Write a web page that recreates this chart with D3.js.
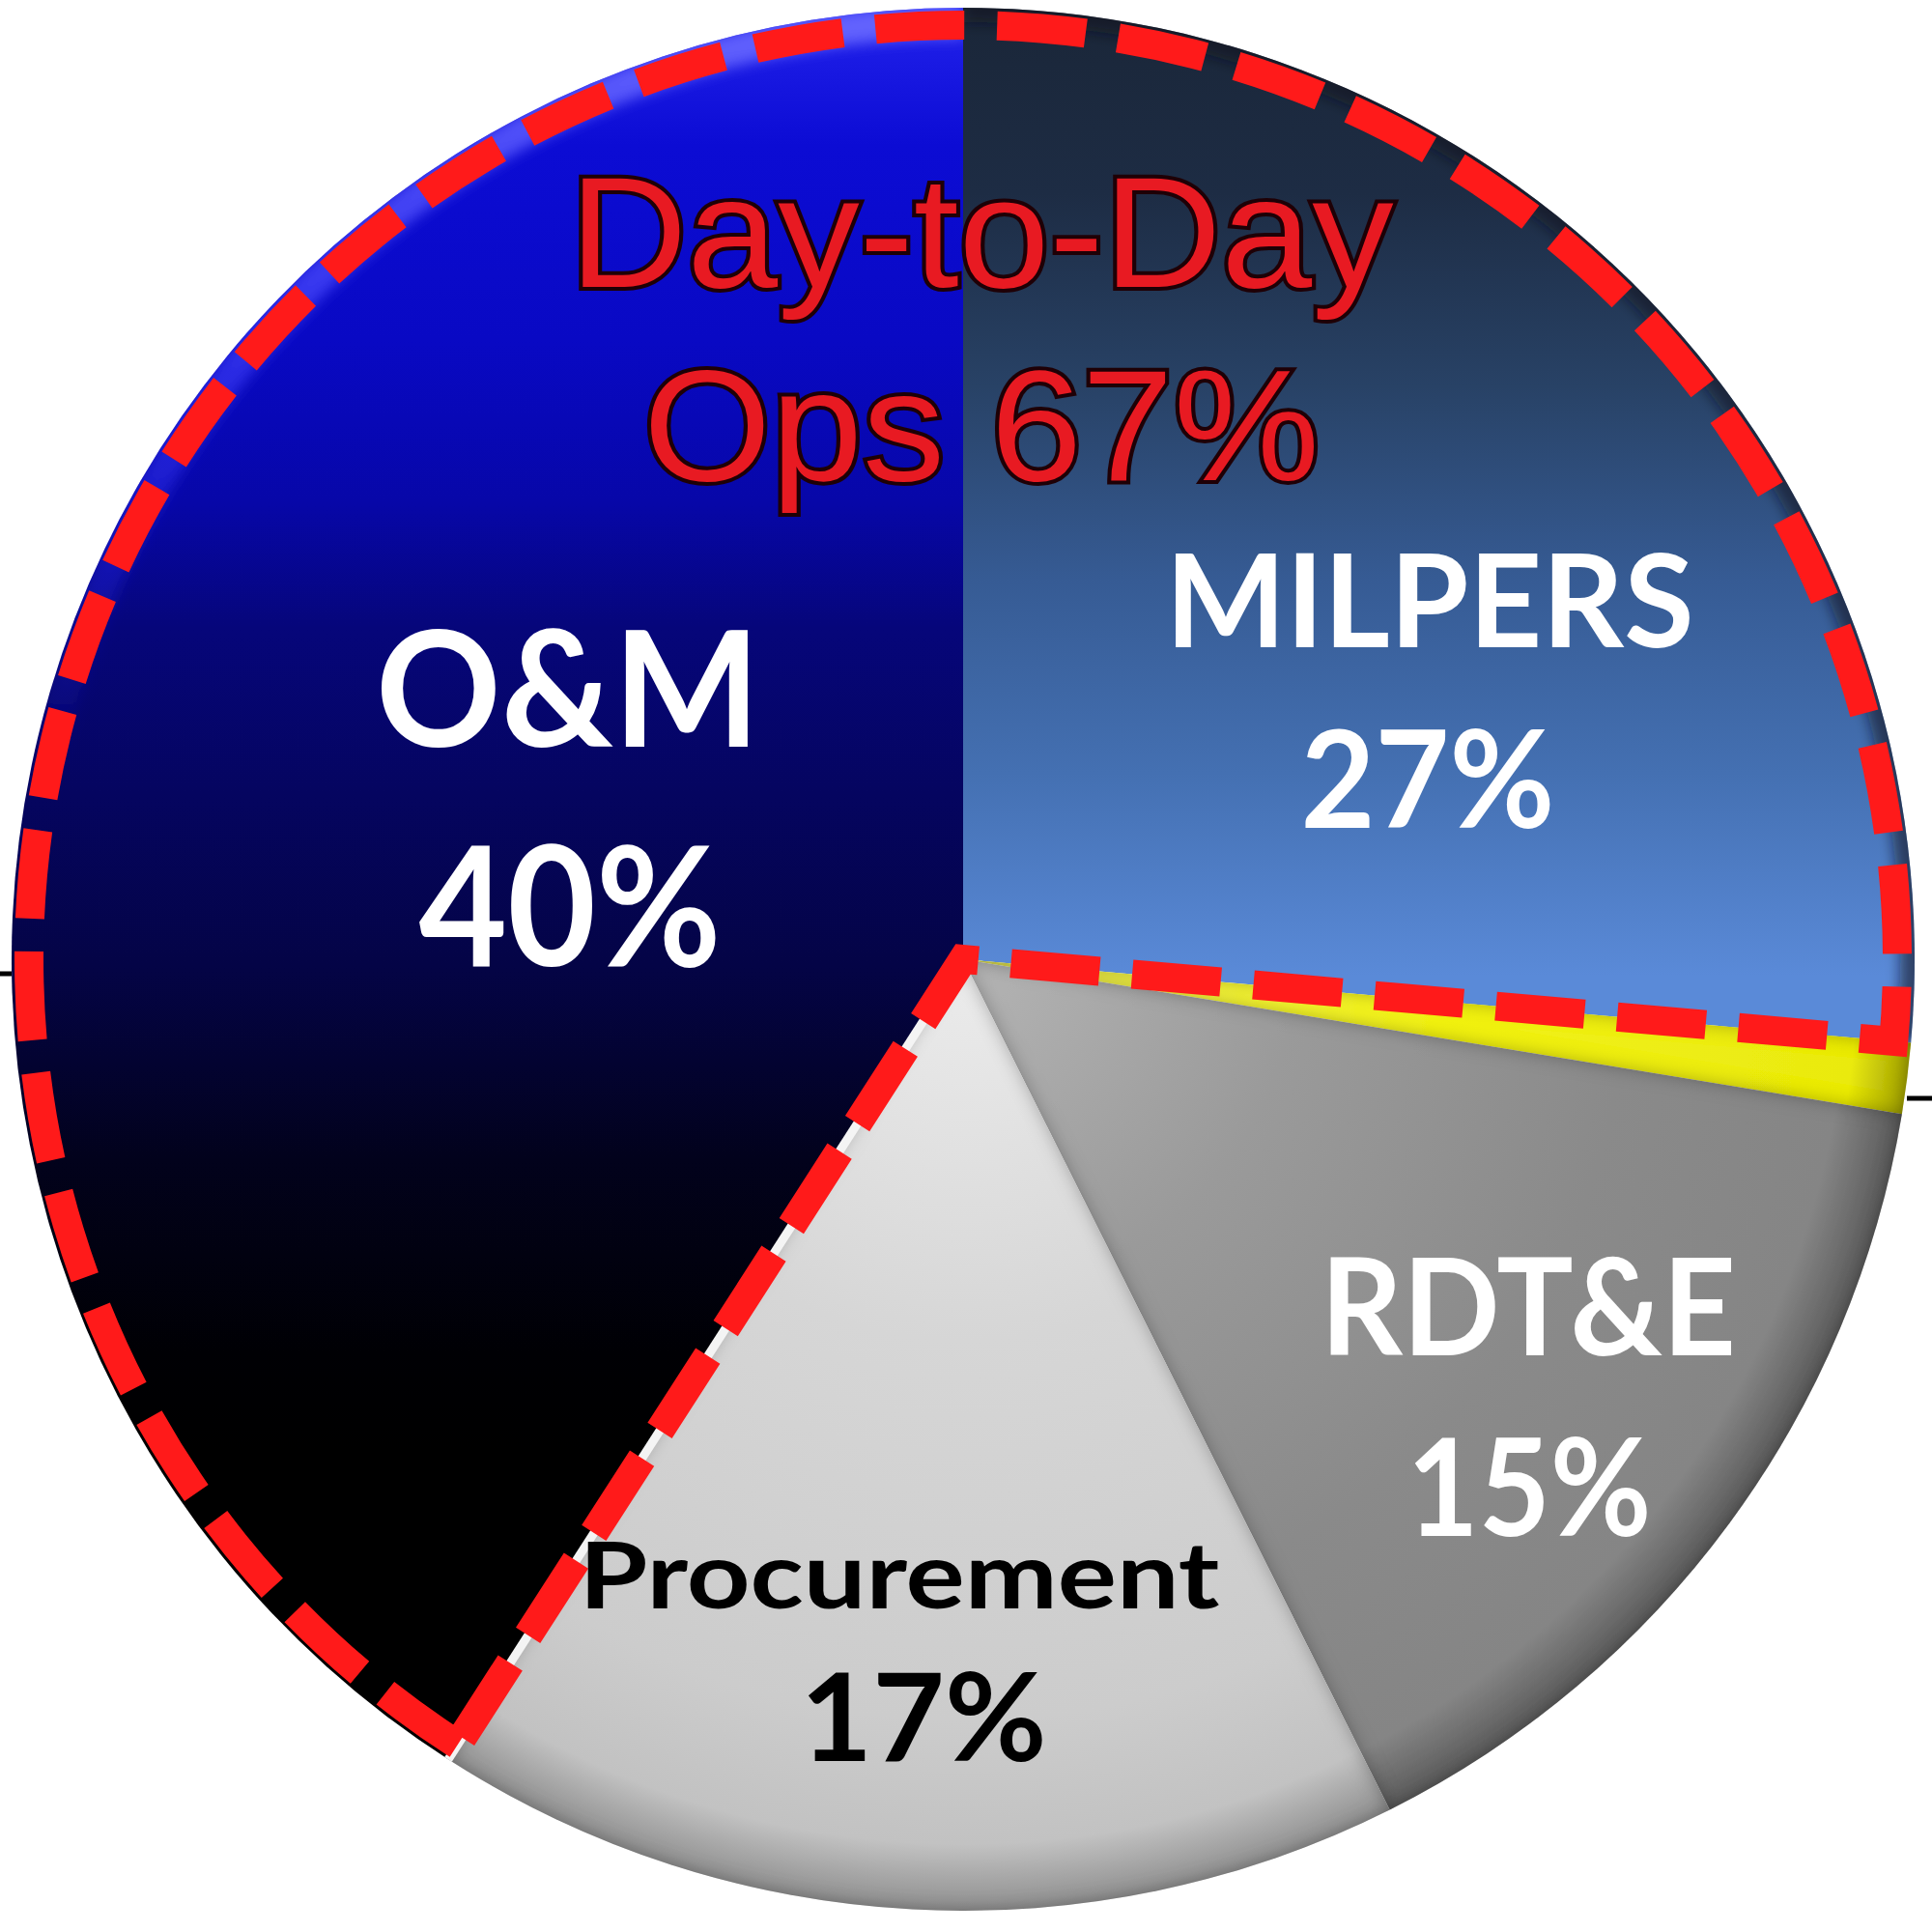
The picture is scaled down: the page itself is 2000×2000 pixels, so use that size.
<!DOCTYPE html>
<html><head><meta charset="utf-8">
<script src="https://cdn.jsdelivr.net/npm/d3@7"></script>
<style>html,body{margin:0;padding:0;background:#fff}</style>
</head><body>
<svg id="chart" width="2000" height="2000" xmlns="http://www.w3.org/2000/svg"></svg>
<script>
// ---- data ----
const categories = ["MILPERS", "Other", "RDT&E", "Procurement", "O&M"];
const shares     = [26.4, 1.2, 15.0, 16.5, 40.9];
const pctLabels  = ["27%", "", "15%", "17%", "40%"];
const groupLines = ["Day-to-Day", "Ops 67%"];
const groupMembers = ["O&M", "MILPERS"];

// ---- layout / style ----
const W = 2000, H = 2000, cx = 997, cy = 993, R = 985;
const labelLayout = {
  "MILPERS":     {nx: 483, ny: -323, ns: 135, nw: 547, px: 481, py: -136, ps: 140, pw: 263, color: "#ffffff"},
  "O&M":         {nx: -409, ny: -220, ns: 166, nw: 398, px: -407, py: 7,   ps: 172, pw: 313, color: "#ffffff"},
  "RDT&E":       {nx: 585, ny: 410,  ns: 140, nw: 430, px: 586, py: 597,  ps: 140, pw: 253, color: "#ffffff"},
  "Procurement": {nx: -66, ny: 672,  ns: 96,  nw: 663, px: -41, py: 830,  ps: 126, pw: 255, color: "#000000"}
};
const titleLayout = {x: 19, y: [-696, -496], size: 163, w: [853, 700]};

const svg = d3.select("#chart");
const defs = svg.append("defs");

function linGrad(id, y0, y1, stops) {
  const g = defs.append("linearGradient").attr("id", id)
    .attr("gradientUnits", "userSpaceOnUse")
    .attr("x1", 0).attr("x2", 0).attr("y1", y0 - cy).attr("y2", y1 - cy);
  stops.forEach(s => g.append("stop").attr("offset", (s[0] - y0) / (y1 - y0)).attr("stop-color", s[1]).attr("stop-opacity", s[2] == null ? 1 : s[2]));
}
function radGrad(id, stops) {
  const g = defs.append("radialGradient").attr("id", id)
    .attr("gradientUnits", "userSpaceOnUse").attr("cx", 0).attr("cy", 0).attr("r", R);
  stops.forEach(s => g.append("stop").attr("offset", s[0]).attr("stop-color", s[1]));
}
linGrad("gOM", 0, 1500, [[0, "#2424ee"], [150, "#0c0cd4"], [350, "#0909c4"], [520, "#0707a8"], [650, "#06067a"], [820, "#050560"], [1000, "#040446"], [1200, "#02021c"], [1400, "#000004"], [1500, "#000000"]]);
linGrad("gMIL", 0, 1010, [[0, "#1a2638"], [200, "#1d2c44"], [400, "#284266"], [600, "#365b94"], [800, "#4470b2"], [1010, "#5a8ad8"]]);
radGrad("gRDT", [[0, "#b4b4b4"], [0.35, "#9a9a9a"], [0.7, "#8a8a8a"], [0.93, "#858585"], [1, "#5a5a5a"]]);
radGrad("gPRO", [[0, "#ececec"], [0.4, "#d6d6d6"], [0.8, "#cccccc"], [0.93, "#c2c2c2"], [1, "#8e8e8e"]]);
radGrad("gOTH", [[0, "#f8f860"], [0.5, "#f2f218"], [0.94, "#eaea10"], [1, "#a0a000"]]);
linGrad("gOMrim", 0, 800, [[0, "#6a6aff", 0.95], [300, "#4a4aff", 0.7], [800, "#2020ff", 0]]);

const fill = {"MILPERS": "url(#gMIL)", "Other": "url(#gOTH)", "RDT&E": "url(#gRDT)", "Procurement": "url(#gPRO)", "O&M": "url(#gOM)"};

// inner shadow filter for bevelled look
const f = defs.append("filter").attr("id", "inner").attr("x", "-10%").attr("y", "-10%").attr("width", "120%").attr("height", "120%");
f.append("feFlood").attr("flood-color", "#000").attr("flood-opacity", 0.55).attr("result", "fl");
f.append("feComposite").attr("in", "fl").attr("in2", "SourceAlpha").attr("operator", "out").attr("result", "outside");
f.append("feGaussianBlur").attr("in", "outside").attr("stdDeviation", 9).attr("result", "bl");
f.append("feComposite").attr("in", "bl").attr("in2", "SourceAlpha").attr("operator", "in").attr("result", "sh");
const fm = f.append("feMerge");
fm.append("feMergeNode").attr("in", "SourceGraphic");
fm.append("feMergeNode").attr("in", "sh");

const blur = defs.append("filter").attr("id", "soft").attr("x", "-20%").attr("y", "-20%").attr("width", "140%").attr("height", "140%");
blur.append("feGaussianBlur").attr("stdDeviation", 7);

const data = categories.map((c, i) => ({cat: c, v: shares[i], pct: pctLabels[i]}));
const pie = d3.pie().sort(null).value(d => d.v).startAngle(0).endAngle(2 * Math.PI);
const arcs = pie(data);
const arc = d3.arc().innerRadius(0).outerRadius(R);

const g = svg.append("g").attr("transform", `translate(${cx},${cy})`);

// slices
arcs.forEach(a => {
  defs.append("clipPath").attr("id", "clip" + a.index).append("path").attr("d", arc(a));
});
g.selectAll("path.slice").data(arcs).join("path")
  .attr("class", "slice")
  .attr("d", arc)
  .attr("fill", d => fill[d.data.cat])
  .attr("filter", d => (d.data.cat === "O&M" || d.data.cat === "MILPERS") ? null : "url(#inner)");

// O&M rim highlight
const om = arcs.find(a => a.data.cat === "O&M");
const rimArc = d3.arc().innerRadius(R - 14).outerRadius(R - 14).startAngle(om.startAngle).endAngle(om.endAngle);
g.append("g").attr("clip-path", "url(#clip" + om.index + ")")
  .append("path").attr("d", rimArc()).attr("fill", "none")
  .attr("stroke", "url(#gOMrim)").attr("stroke-width", 34).attr("filter", "url(#soft)");

// MILPERS subtle dark rim
const mil = arcs.find(a => a.data.cat === "MILPERS");
const milRim = d3.arc().innerRadius(R).outerRadius(R).startAngle(mil.startAngle).endAngle(mil.endAngle);
g.append("g").attr("clip-path", "url(#clip" + mil.index + ")")
  .append("path").attr("d", milRim()).attr("fill", "none")
  .attr("stroke", "#0c1420").attr("stroke-opacity", 0.6).attr("stroke-width", 30).attr("filter", "url(#soft)");

// white gap between O&M and Procurement
const pro = arcs.find(a => a.data.cat === "Procurement");
g.append("line")
  .attr("x1", 0).attr("y1", 0)
  .attr("x2", R * Math.sin(pro.endAngle)).attr("y2", -R * Math.cos(pro.endAngle))
  .attr("stroke", "#f4f4f4").attr("stroke-width", 9);

// dashed outline for group
const gStart = om.startAngle, gEnd = mil.endAngle + 2 * Math.PI;
const dashArc = d3.arc().innerRadius(0).outerRadius(R - 18).startAngle(gStart).endAngle(gEnd);
g.append("path").attr("d", dashArc())
  .attr("fill", "none").attr("stroke", "#ff1a1a").attr("stroke-width", 30)
  .attr("stroke-dasharray", "92 34").attr("stroke-linejoin", "miter");

// group title
titleLayout.y.forEach((y, i) => {
  g.append("text")
    .attr("x", titleLayout.x).attr("y", y)
    .attr("text-anchor", "middle")
    .attr("font-family", "'Liberation Sans', Arial, sans-serif")
    .attr("font-size", titleLayout.size)
    .attr("textLength", titleLayout.w[i]).attr("lengthAdjust", "spacingAndGlyphs")
    .attr("fill", "#e81a22").attr("stroke", "#1e0006").attr("stroke-width", 8)
    .attr("paint-order", "stroke fill")
    .text(groupLines[i]);
});

// slice labels
arcs.forEach(a => {
  const L = labelLayout[a.data.cat];
  if (!L) return;
  g.append("text").attr("x", L.nx).attr("y", L.ny).attr("text-anchor", "middle")
    .attr("font-family", "Lato, 'Open Sans', sans-serif").attr("font-weight", 700)
    .attr("font-size", L.ns).attr("textLength", L.nw).attr("lengthAdjust", "spacingAndGlyphs")
    .attr("fill", L.color).text(a.data.cat);
  g.append("text").attr("x", L.px).attr("y", L.py).attr("text-anchor", "middle")
    .attr("font-family", "Lato, 'Open Sans', sans-serif").attr("font-weight", 700)
    .attr("font-size", L.ps).attr("textLength", L.pw).attr("lengthAdjust", "spacingAndGlyphs")
    .attr("fill", L.color).text(a.data.pct);
});

// small axis remnants at the edges
svg.append("line").attr("x1", 0).attr("x2", 12).attr("y1", 1008).attr("y2", 1008).attr("stroke", "#000").attr("stroke-width", 5);
svg.append("line").attr("x1", 1974).attr("x2", 2000).attr("y1", 1137).attr("y2", 1137).attr("stroke", "#000").attr("stroke-width", 5);
</script>
</body></html>
